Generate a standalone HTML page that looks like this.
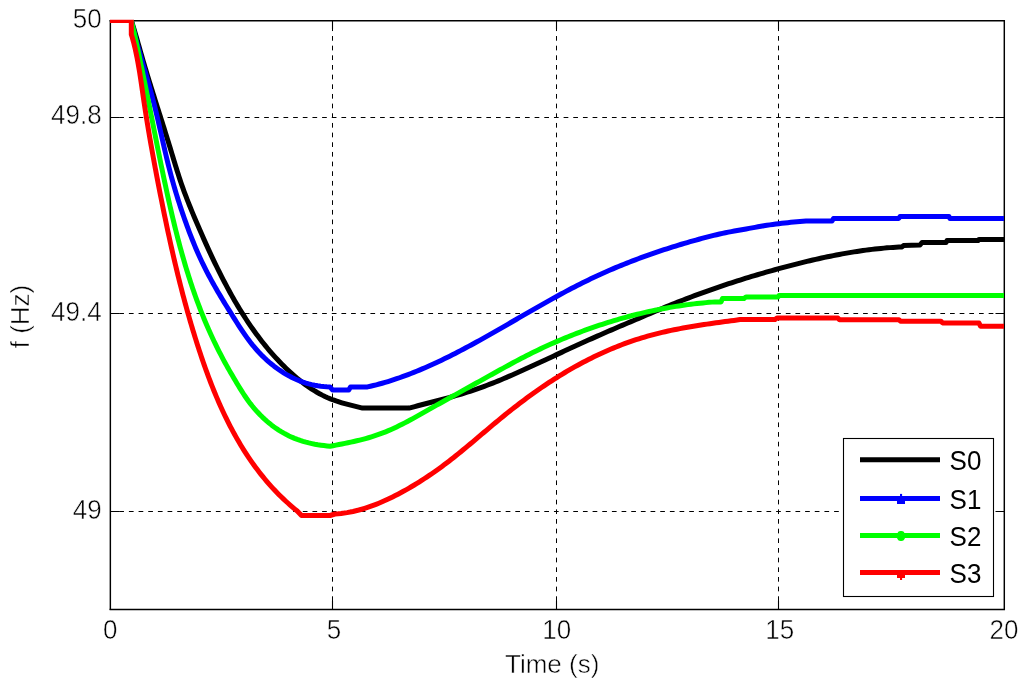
<!DOCTYPE html><html><head><meta charset="utf-8"><title>f (Hz) vs Time</title><style>html,body{margin:0;padding:0;background:#fff;}svg{display:block;}</style></head><body>
<svg width="1024" height="687" viewBox="0 0 1024 687" font-family="'Liberation Sans', Arial, sans-serif">
<style>.tl{fill:#000;stroke:#fff;stroke-width:0.5px;paint-order:fill stroke;}</style>
<rect width="1024" height="687" fill="#fff"/>
<defs><clipPath id="ax"><rect x="110" y="19.8" width="894" height="590.2"/></clipPath></defs>
<g stroke="#000" stroke-width="1" stroke-dasharray="4.7 4.96" fill="none"><line x1="332.5" y1="20.5" x2="332.5" y2="609.5" stroke-dashoffset="3.8"/><line x1="556.5" y1="20.5" x2="556.5" y2="609.5" stroke-dashoffset="3.8"/><line x1="778.5" y1="20.5" x2="778.5" y2="609.5" stroke-dashoffset="3.8"/><line x1="110.5" y1="117.5" x2="1004.5" y2="117.5" stroke-dashoffset="0.9"/><line x1="110.5" y1="313.5" x2="1004.5" y2="313.5" stroke-dashoffset="0.9"/><line x1="110.5" y1="511.5" x2="1004.5" y2="511.5" stroke-dashoffset="0.9"/></g>
<path d="M332.5 20.5v9M332.5 609.5v-9M556.5 20.5v9M556.5 609.5v-9M778.5 20.5v9M778.5 609.5v-9M110.5 117.5h9M1004.5 117.5h-9M110.5 313.5h9M1004.5 313.5h-9M110.5 511.5h9M1004.5 511.5h-9" stroke="#000" stroke-width="1.1" fill="none"/>
<g stroke="#000" stroke-width="1.45"><line x1="110.35" y1="20" x2="110.35" y2="610.1"/><line x1="1004.3" y1="20" x2="1004.3" y2="610.1"/><line x1="109.6" y1="20.7" x2="1005" y2="20.7"/><line x1="109.6" y1="609.4" x2="1005" y2="609.4"/></g>
<g clip-path="url(#ax)" fill="none" stroke-width="5.0" stroke-linejoin="round" stroke-linecap="butt">
<polyline stroke="#000" points="131.30,20.40 132.22,23.29 133.11,26.18 133.99,29.08 134.85,31.99 135.71,34.89 136.55,37.80 137.39,40.71 138.21,43.63 139.04,46.54 139.87,49.46 140.69,52.37 141.53,55.28 142.36,58.19 143.21,61.10 144.06,64.01 144.92,66.91 145.79,69.81 146.66,72.72 147.54,75.61 148.42,78.51 149.31,81.41 150.20,84.30 151.10,87.19 152.00,90.08 152.90,92.97 153.81,95.86 154.72,98.75 155.63,101.64 156.54,104.53 157.46,107.41 158.37,110.30 159.29,113.19 160.20,116.07 161.12,118.96 162.03,121.85 162.94,124.73 163.85,127.62 164.76,130.51 165.66,133.39 166.56,136.28 167.46,139.17 168.36,142.06 169.25,144.95 170.13,147.84 171.01,150.74 171.89,153.63 172.76,156.53 173.64,159.42 174.51,162.32 175.39,165.21 176.28,168.10 177.18,170.99 178.09,173.87 179.02,176.75 179.96,179.63 180.92,182.49 181.91,185.36 182.92,188.21 183.95,191.06 185.01,193.91 186.08,196.74 187.18,199.57 188.29,202.39 189.42,205.21 190.56,208.02 191.71,210.83 192.87,213.63 194.05,216.43 195.22,219.22 196.41,222.00 197.60,224.79 198.79,227.56 199.99,230.34 201.20,233.11 202.41,235.87 203.63,238.63 204.86,241.39 206.09,244.14 207.34,246.89 208.59,249.63 209.86,252.37 211.13,255.11 212.42,257.85 213.71,260.58 215.02,263.30 216.34,266.02 217.67,268.74 219.02,271.46 220.38,274.17 221.75,276.88 223.14,279.58 224.54,282.27 225.96,284.95 227.39,287.63 228.84,290.30 230.30,292.97 231.78,295.62 233.28,298.26 234.80,300.90 236.33,303.52 237.88,306.13 239.45,308.73 241.04,311.31 242.65,313.89 244.28,316.45 245.93,318.99 247.60,321.52 249.29,324.04 251.00,326.54 252.74,329.02 254.49,331.49 256.27,333.93 258.07,336.36 259.90,338.78 261.75,341.17 263.62,343.54 265.52,345.89 267.45,348.22 269.40,350.53 271.37,352.82 273.37,355.08 275.40,357.33 277.46,359.54 279.54,361.74 281.65,363.91 283.79,366.05 285.96,368.17 288.15,370.26 290.38,372.32 292.64,374.35 294.92,376.35 297.24,378.31 299.59,380.23 301.97,382.11 304.39,383.94 306.83,385.72 309.32,387.44 311.83,389.11 314.38,390.72 316.97,392.26 319.59,393.73 322.25,395.13 324.95,396.46 327.68,397.71 330.46,398.87 333.27,399.96 336.11,400.97 338.98,401.91 341.88,402.80 344.80,403.64 347.74,404.44 350.68,405.20 353.64,405.94 356.59,406.66 359.55,407.38 362.50,408.10 409.00,408.10 411.91,407.32 414.82,406.54 417.73,405.77 420.65,405.01 423.57,404.25 426.49,403.49 429.41,402.73 432.34,401.97 435.26,401.21 438.18,400.45 441.10,399.67 444.02,398.89 446.94,398.11 449.85,397.31 452.76,396.50 455.67,395.67 458.57,394.83 461.46,393.98 464.35,393.10 467.23,392.21 470.10,391.29 472.96,390.35 475.81,389.38 478.66,388.39 481.49,387.38 484.32,386.34 487.13,385.28 489.94,384.20 492.75,383.10 495.54,381.98 498.33,380.84 501.11,379.69 503.89,378.52 506.66,377.34 509.42,376.14 512.19,374.93 514.94,373.72 517.70,372.49 520.45,371.25 523.19,370.01 525.94,368.76 528.68,367.51 531.42,366.25 534.16,364.99 536.90,363.73 539.64,362.47 542.38,361.21 545.12,359.94 547.86,358.68 550.60,357.41 553.33,356.15 556.07,354.88 558.81,353.62 561.55,352.36 564.29,351.09 567.03,349.83 569.77,348.58 572.51,347.32 575.25,346.07 577.99,344.81 580.74,343.57 583.48,342.32 586.23,341.08 588.98,339.84 591.73,338.61 594.48,337.38 597.23,336.16 599.99,334.94 602.75,333.73 605.51,332.52 608.27,331.32 611.03,330.12 613.80,328.93 616.57,327.75 619.34,326.57 622.11,325.39 624.88,324.21 627.66,323.04 630.43,321.87 633.20,320.69 635.98,319.52 638.75,318.35 641.52,317.17 644.29,316.00 647.06,314.82 649.83,313.64 652.60,312.47 655.38,311.29 658.15,310.12 660.93,308.96 663.71,307.80 666.49,306.66 669.27,305.52 672.07,304.39 674.86,303.26 677.66,302.15 680.46,301.05 683.27,299.96 686.08,298.87 688.89,297.80 691.71,296.73 694.53,295.68 697.36,294.63 700.19,293.60 703.02,292.57 705.86,291.55 708.70,290.54 711.54,289.54 714.38,288.54 717.23,287.56 720.09,286.59 722.94,285.62 725.80,284.67 728.66,283.72 731.53,282.78 734.40,281.85 737.27,280.93 740.14,280.02 743.02,279.11 745.90,278.22 748.78,277.33 751.66,276.46 754.55,275.59 757.44,274.73 760.33,273.88 763.23,273.03 766.13,272.20 769.02,271.37 771.93,270.56 774.83,269.75 777.74,268.95 780.64,268.16 783.55,267.37 786.47,266.60 789.38,265.83 792.30,265.07 795.22,264.32 798.14,263.58 801.06,262.85 803.98,262.13 806.91,261.42 809.84,260.72 812.77,260.04 815.70,259.36 818.64,258.70 821.58,258.05 824.52,257.41 827.46,256.79 830.41,256.18 833.36,255.59 836.31,255.01 839.26,254.45 842.22,253.90 845.18,253.37 848.14,252.85 851.10,252.35 854.07,251.87 857.04,251.41 860.02,250.96 862.99,250.54 865.97,250.13 868.96,249.74 871.95,249.38 874.94,249.03 877.93,248.70 880.93,248.40 883.93,248.12 886.93,247.86 889.94,247.62 892.95,247.40 895.96,247.21 898.98,247.04 902.00,246.90 903.50,245.60 920.00,245.00 922.00,242.50 946.00,242.50 947.00,240.60 978.00,240.60 979.00,239.40 1006.00,239.40"/>
<polyline stroke="#0000ff" points="131.30,20.40 131.98,23.36 132.69,26.31 133.41,29.26 134.15,32.21 134.90,35.15 135.67,38.09 136.46,41.02 137.26,43.96 138.07,46.89 138.88,49.82 139.71,52.74 140.54,55.67 141.38,58.59 142.22,61.51 143.07,64.44 143.92,67.36 144.76,70.28 145.61,73.20 146.45,76.13 147.29,79.05 148.12,81.97 148.95,84.90 149.77,87.83 150.58,90.76 151.38,93.69 152.16,96.63 152.93,99.56 153.69,102.51 154.43,105.45 155.16,108.40 155.88,111.35 156.59,114.30 157.28,117.26 157.98,120.21 158.66,123.17 159.34,126.13 160.01,129.09 160.68,132.05 161.35,135.01 162.02,137.97 162.69,140.93 163.37,143.89 164.04,146.85 164.73,149.81 165.41,152.76 166.11,155.72 166.81,158.67 167.52,161.62 168.25,164.57 168.98,167.51 169.73,170.46 170.50,173.40 171.28,176.33 172.08,179.26 172.89,182.19 173.72,185.12 174.56,188.04 175.43,190.95 176.30,193.86 177.20,196.77 178.10,199.67 179.02,202.57 179.96,205.46 180.91,208.35 181.88,211.23 182.86,214.11 183.85,216.98 184.85,219.85 185.87,222.71 186.91,225.57 187.96,228.42 189.02,231.26 190.10,234.10 191.20,236.93 192.31,239.75 193.45,242.56 194.60,245.37 195.77,248.16 196.97,250.94 198.18,253.72 199.42,256.48 200.69,259.24 201.97,261.98 203.29,264.71 204.63,267.42 205.99,270.13 207.38,272.82 208.79,275.51 210.22,278.18 211.67,280.84 213.14,283.50 214.63,286.14 216.14,288.78 217.66,291.40 219.20,294.02 220.75,296.64 222.31,299.24 223.89,301.84 225.48,304.44 227.07,307.02 228.68,309.61 230.29,312.19 231.91,314.76 233.53,317.33 235.15,319.90 236.78,322.47 238.42,325.03 240.07,327.57 241.74,330.11 243.44,332.63 245.16,335.13 246.92,337.60 248.71,340.05 250.55,342.46 252.43,344.85 254.37,347.19 256.36,349.49 258.40,351.76 260.50,353.97 262.64,356.14 264.83,358.25 267.07,360.32 269.36,362.32 271.70,364.27 274.08,366.16 276.51,367.98 278.98,369.73 281.49,371.42 284.05,373.03 286.64,374.57 289.28,376.03 291.96,377.42 294.68,378.72 297.43,379.93 300.23,381.06 303.05,382.09 305.92,383.03 308.82,383.88 311.75,384.63 314.71,385.27 317.71,385.82 320.74,386.25 323.80,386.58 326.88,386.80 330.00,386.90 332.50,390.00 348.75,390.00 350.50,386.90 367.50,386.90 370.45,386.24 373.39,385.55 376.33,384.81 379.26,384.04 382.18,383.24 385.10,382.40 388.00,381.53 390.90,380.63 393.79,379.70 396.67,378.74 399.55,377.75 402.42,376.73 405.27,375.69 408.12,374.62 410.96,373.52 413.79,372.40 416.61,371.26 419.42,370.10 422.22,368.92 425.02,367.72 427.80,366.50 430.57,365.26 433.33,364.01 436.09,362.74 438.83,361.45 441.57,360.15 444.30,358.83 447.02,357.50 449.73,356.15 452.44,354.79 455.14,353.42 457.83,352.04 460.52,350.64 463.20,349.23 465.88,347.81 468.55,346.38 471.22,344.94 473.88,343.49 476.54,342.03 479.19,340.57 481.85,339.09 484.49,337.61 487.14,336.13 489.78,334.63 492.42,333.13 495.06,331.63 497.70,330.12 500.34,328.61 502.97,327.09 505.60,325.58 508.24,324.06 510.87,322.53 513.50,321.01 516.13,319.49 518.76,317.96 521.39,316.44 524.02,314.92 526.66,313.40 529.29,311.88 531.93,310.36 534.56,308.85 537.20,307.34 539.85,305.84 542.49,304.34 545.14,302.85 547.78,301.36 550.44,299.88 553.09,298.40 555.75,296.94 558.42,295.48 561.08,294.03 563.76,292.59 566.43,291.16 569.11,289.74 571.80,288.33 574.49,286.93 577.19,285.55 579.89,284.18 582.60,282.82 585.32,281.47 588.04,280.14 590.77,278.82 593.51,277.52 596.25,276.24 599.00,274.97 601.76,273.71 604.53,272.47 607.30,271.25 610.08,270.04 612.87,268.84 615.66,267.66 618.46,266.50 621.26,265.35 624.07,264.21 626.89,263.09 629.71,261.98 632.54,260.88 635.38,259.80 638.22,258.74 641.06,257.68 643.91,256.64 646.77,255.61 649.63,254.60 652.50,253.59 655.37,252.60 658.25,251.63 661.13,250.66 664.01,249.71 666.90,248.77 669.80,247.84 672.70,246.92 675.60,246.02 678.51,245.13 681.42,244.25 684.33,243.38 687.25,242.53 690.17,241.69 693.09,240.86 696.02,240.04 698.94,239.24 701.88,238.45 704.81,237.67 707.75,236.91 710.69,236.16 713.63,235.43 716.58,234.73 719.53,234.05 722.48,233.39 725.43,232.77 728.39,232.17 731.35,231.59 734.32,231.04 737.28,230.50 740.24,229.97 743.20,229.45 746.16,228.93 749.12,228.41 752.07,227.89 755.02,227.36 757.97,226.83 760.93,226.32 763.88,225.81 766.84,225.33 769.81,224.87 772.78,224.44 775.76,224.03 778.76,223.65 781.75,223.30 784.76,222.96 787.77,222.64 790.79,222.35 793.82,222.07 796.86,221.81 799.90,221.56 802.95,221.32 806.00,221.10 832.00,221.10 833.50,218.50 898.75,218.50 900.00,216.60 949.00,216.60 950.00,218.50 1006.00,218.50"/>
<polyline stroke="#00ff00" points="131.30,20.40 131.99,23.34 132.67,26.29 133.34,29.24 134.01,32.18 134.67,35.13 135.33,38.08 135.98,41.03 136.62,43.98 137.27,46.93 137.90,49.88 138.54,52.83 139.16,55.78 139.79,58.73 140.41,61.69 141.02,64.64 141.64,67.59 142.25,70.55 142.85,73.50 143.46,76.46 144.06,79.41 144.66,82.37 145.25,85.32 145.85,88.28 146.44,91.23 147.03,94.19 147.62,97.14 148.21,100.10 148.79,103.06 149.38,106.01 149.96,108.97 150.55,111.93 151.13,114.88 151.71,117.84 152.30,120.80 152.88,123.76 153.46,126.71 154.05,129.67 154.63,132.63 155.22,135.59 155.81,138.54 156.40,141.50 156.99,144.46 157.58,147.41 158.17,150.37 158.77,153.33 159.37,156.28 159.97,159.24 160.57,162.19 161.18,165.15 161.79,168.11 162.40,171.06 163.01,174.02 163.63,176.97 164.26,179.92 164.89,182.88 165.52,185.83 166.15,188.78 166.79,191.74 167.44,194.69 168.09,197.64 168.75,200.59 169.41,203.54 170.08,206.49 170.76,209.43 171.44,212.38 172.13,215.32 172.82,218.26 173.53,221.20 174.24,224.14 174.96,227.07 175.69,230.01 176.43,232.94 177.18,235.86 177.93,238.79 178.70,241.71 179.47,244.63 180.26,247.55 181.06,250.46 181.87,253.37 182.69,256.27 183.52,259.17 184.36,262.07 185.21,264.96 186.08,267.85 186.96,270.73 187.85,273.61 188.76,276.49 189.68,279.36 190.61,282.22 191.56,285.08 192.52,287.94 193.50,290.79 194.49,293.63 195.50,296.47 196.52,299.30 197.56,302.13 198.61,304.95 199.68,307.76 200.77,310.57 201.88,313.37 203.00,316.17 204.14,318.96 205.30,321.74 206.47,324.51 207.67,327.28 208.88,330.03 210.11,332.78 211.36,335.53 212.62,338.26 213.91,340.99 215.22,343.70 216.54,346.41 217.88,349.11 219.25,351.80 220.63,354.48 222.03,357.15 223.46,359.82 224.90,362.47 226.36,365.11 227.83,367.75 229.33,370.38 230.83,373.00 232.36,375.61 233.89,378.23 235.44,380.83 237.00,383.43 238.57,386.03 240.15,388.62 241.76,391.19 243.40,393.74 245.08,396.26 246.79,398.75 248.55,401.21 250.37,403.63 252.23,405.99 254.16,408.32 256.13,410.59 258.16,412.80 260.24,414.97 262.37,417.08 264.56,419.13 266.79,421.11 269.07,423.04 271.41,424.90 273.79,426.69 276.22,428.42 278.70,430.07 281.22,431.65 283.79,433.15 286.41,434.57 289.07,435.91 291.78,437.17 294.53,438.35 297.33,439.44 300.16,440.44 303.04,441.35 305.96,442.17 308.91,442.92 311.88,443.58 314.88,444.18 317.89,444.71 320.91,445.17 323.94,445.58 326.97,445.94 330.00,446.25 332.98,445.70 335.96,445.15 338.94,444.58 341.92,444.00 344.90,443.41 347.88,442.79 350.86,442.16 353.82,441.50 356.79,440.81 359.74,440.09 362.68,439.34 365.61,438.56 368.52,437.73 371.42,436.86 374.31,435.95 377.17,434.99 380.01,433.98 382.84,432.92 385.64,431.81 388.42,430.65 391.19,429.44 393.94,428.20 396.67,426.91 399.39,425.60 402.10,424.25 404.79,422.87 407.47,421.46 410.15,420.04 412.81,418.59 415.47,417.13 418.12,415.65 420.77,414.16 423.42,412.67 426.06,411.17 428.70,409.67 431.35,408.17 433.99,406.68 436.63,405.19 439.28,403.70 441.93,402.21 444.57,400.73 447.22,399.25 449.87,397.77 452.52,396.29 455.16,394.82 457.81,393.34 460.46,391.87 463.11,390.40 465.76,388.93 468.41,387.46 471.06,385.99 473.70,384.52 476.35,383.05 479.00,381.58 481.65,380.11 484.29,378.63 486.94,377.16 489.58,375.69 492.23,374.22 494.87,372.75 497.52,371.28 500.17,369.81 502.82,368.35 505.48,366.90 508.13,365.45 510.79,364.01 513.46,362.57 516.13,361.15 518.80,359.74 521.48,358.33 524.17,356.94 526.86,355.56 529.56,354.19 532.27,352.84 534.99,351.51 537.71,350.19 540.45,348.88 543.19,347.59 545.94,346.32 548.69,345.06 551.46,343.82 554.23,342.60 557.01,341.39 559.79,340.19 562.59,339.02 565.39,337.85 568.19,336.71 571.01,335.58 573.83,334.47 576.65,333.37 579.49,332.29 582.33,331.23 585.17,330.19 588.02,329.16 590.88,328.14 593.75,327.15 596.61,326.17 599.49,325.21 602.37,324.26 605.26,323.34 608.15,322.42 611.04,321.53 613.95,320.65 616.85,319.80 619.76,318.95 622.68,318.13 625.60,317.32 628.53,316.54 631.46,315.76 634.39,315.01 637.33,314.27 640.27,313.56 643.22,312.86 646.17,312.18 649.12,311.51 652.08,310.87 655.04,310.24 658.01,309.64 660.98,309.05 663.95,308.48 666.93,307.93 669.91,307.40 672.89,306.89 675.88,306.40 678.87,305.93 681.86,305.48 684.86,305.05 687.86,304.64 690.86,304.25 693.87,303.88 696.88,303.54 699.89,303.21 702.91,302.91 705.93,302.62 708.95,302.36 711.97,302.12 715.00,301.90 721.00,301.90 722.50,298.50 744.00,298.50 746.00,296.90 778.00,296.90 779.00,295.60 1006.00,295.60"/>
<polyline stroke="#ff0000" points="108.00,20.40 131.30,20.40 131.30,34.50 132.20,37.37 133.04,40.26 133.81,43.17 134.53,46.09 135.21,49.02 135.85,51.95 136.47,54.89 137.06,57.84 137.62,60.80 138.16,63.76 138.68,66.73 139.18,69.70 139.67,72.67 140.14,75.65 140.60,78.63 141.05,81.61 141.49,84.60 141.93,87.59 142.36,90.58 142.80,93.57 143.23,96.57 143.67,99.56 144.12,102.55 144.57,105.55 145.03,108.54 145.49,111.54 145.96,114.53 146.44,117.52 146.92,120.52 147.40,123.51 147.90,126.50 148.39,129.50 148.90,132.49 149.40,135.48 149.92,138.47 150.44,141.46 150.96,144.45 151.48,147.44 152.02,150.43 152.55,153.42 153.09,156.41 153.64,159.40 154.19,162.38 154.74,165.37 155.30,168.35 155.86,171.33 156.42,174.31 156.99,177.29 157.56,180.27 158.13,183.25 158.71,186.23 159.29,189.20 159.88,192.17 160.46,195.15 161.05,198.12 161.65,201.08 162.24,204.05 162.84,207.02 163.44,209.98 164.05,212.94 164.66,215.91 165.27,218.86 165.89,221.82 166.51,224.78 167.13,227.73 167.76,230.69 168.40,233.64 169.04,236.59 169.68,239.54 170.33,242.48 170.99,245.43 171.65,248.37 172.31,251.32 172.98,254.26 173.66,257.20 174.34,260.13 175.03,263.07 175.73,266.01 176.43,268.94 177.14,271.87 177.85,274.80 178.57,277.73 179.30,280.66 180.04,283.58 180.78,286.51 181.53,289.43 182.29,292.35 183.05,295.27 183.83,298.19 184.61,301.10 185.40,304.02 186.20,306.93 187.01,309.84 187.82,312.75 188.65,315.66 189.48,318.57 190.32,321.47 191.17,324.38 192.04,327.28 192.91,330.18 193.79,333.08 194.68,335.98 195.58,338.87 196.49,341.77 197.41,344.66 198.34,347.55 199.29,350.44 200.24,353.33 201.20,356.22 202.18,359.10 203.17,361.98 204.17,364.85 205.19,367.72 206.22,370.59 207.26,373.45 208.32,376.30 209.39,379.15 210.48,381.99 211.58,384.83 212.70,387.66 213.83,390.48 214.98,393.29 216.15,396.10 217.34,398.89 218.54,401.68 219.76,404.46 221.00,407.22 222.26,409.98 223.54,412.73 224.83,415.46 226.15,418.18 227.49,420.89 228.85,423.59 230.23,426.28 231.63,428.95 233.05,431.61 234.50,434.26 235.96,436.89 237.46,439.50 238.97,442.10 240.51,444.69 242.07,447.25 243.66,449.81 245.27,452.34 246.91,454.86 248.57,457.36 250.26,459.84 251.98,462.31 253.72,464.75 255.49,467.18 257.29,469.58 259.11,471.97 260.97,474.33 262.85,476.68 264.76,479.00 266.70,481.30 268.67,483.58 270.68,485.83 272.71,488.07 274.77,490.28 276.87,492.46 278.99,494.63 281.15,496.76 283.34,498.88 285.57,500.96 287.83,503.02 290.12,505.06 292.44,507.07 294.81,509.05 297.20,511.00 301.50,515.50 330.00,515.50 335.00,514.00 338.05,513.77 341.07,513.46 344.08,513.07 347.07,512.60 350.04,512.06 353.00,511.45 355.93,510.77 358.85,510.03 361.75,509.22 364.64,508.35 367.50,507.43 370.36,506.45 373.19,505.41 376.01,504.33 378.81,503.20 381.60,502.02 384.37,500.80 387.13,499.54 389.87,498.24 392.60,496.91 395.31,495.55 398.01,494.16 400.69,492.74 403.36,491.29 406.02,489.81 408.66,488.31 411.29,486.78 413.90,485.23 416.50,483.65 419.09,482.05 421.66,480.42 424.21,478.77 426.75,477.10 429.28,475.41 431.79,473.70 434.29,471.96 436.78,470.21 439.25,468.44 441.70,466.64 444.14,464.83 446.57,463.00 448.98,461.16 451.38,459.30 453.76,457.42 456.14,455.54 458.50,453.64 460.86,451.72 463.20,449.80 465.54,447.87 467.88,445.93 470.20,443.99 472.52,442.04 474.84,440.08 477.16,438.13 479.47,436.17 481.79,434.21 484.10,432.25 486.42,430.29 488.74,428.33 491.06,426.38 493.38,424.43 495.71,422.49 498.05,420.55 500.39,418.63 502.75,416.71 505.11,414.80 507.47,412.90 509.85,411.01 512.23,409.13 514.62,407.26 517.02,405.40 519.43,403.55 521.85,401.72 524.28,399.90 526.72,398.09 529.16,396.29 531.62,394.51 534.09,392.74 536.57,390.98 539.06,389.24 541.56,387.52 544.07,385.81 546.59,384.12 549.12,382.44 551.67,380.78 554.23,379.14 556.79,377.52 559.37,375.91 561.97,374.32 564.57,372.75 567.18,371.20 569.81,369.67 572.44,368.16 575.09,366.67 577.75,365.20 580.42,363.75 583.10,362.33 585.79,360.92 588.49,359.54 591.20,358.17 593.92,356.83 596.65,355.52 599.40,354.23 602.15,352.96 604.91,351.71 607.69,350.49 610.47,349.30 613.26,348.13 616.07,346.98 618.88,345.86 621.70,344.77 624.53,343.70 627.38,342.67 630.23,341.65 633.09,340.67 635.96,339.72 638.84,338.79 641.73,337.89 644.62,337.02 647.53,336.18 650.45,335.37 653.37,334.59 656.30,333.83 659.24,333.10 662.19,332.40 665.14,331.71 668.10,331.06 671.07,330.42 674.04,329.80 677.02,329.21 680.00,328.63 682.99,328.07 685.97,327.53 688.97,327.01 691.96,326.50 694.96,326.00 697.96,325.52 700.97,325.05 703.97,324.59 706.98,324.14 709.98,323.70 712.99,323.27 716.00,322.84 719.00,322.42 722.01,322.01 725.01,321.60 728.02,321.20 731.02,320.80 734.01,320.40 737.01,320.00 740.00,319.60 775.00,319.60 777.00,318.10 838.00,318.10 839.50,319.75 899.00,319.75 900.50,321.25 941.00,321.25 942.50,322.90 979.00,322.90 980.50,326.25 1006.00,326.25"/>
</g>
<text transform="translate(101.6 27.5) scale(1 1.07)" font-size="26.0" text-anchor="end" class="tl">50</text>
<text transform="translate(101.6 124.1) scale(1 1.07)" font-size="26.0" text-anchor="end" class="tl">49.8</text>
<text transform="translate(101.6 320.6) scale(1 1.07)" font-size="26.0" text-anchor="end" class="tl">49.4</text>
<text transform="translate(101.6 518.6) scale(1 1.07)" font-size="26.0" text-anchor="end" class="tl">49</text>
<text transform="translate(110.3 639) scale(1 1.07)" font-size="26.0" text-anchor="middle" class="tl">0</text>
<text transform="translate(334.1 639) scale(1 1.07)" font-size="26.0" text-anchor="middle" class="tl">5</text>
<text transform="translate(556.7 639) scale(1 1.07)" font-size="26.0" text-anchor="middle" class="tl">10</text>
<text transform="translate(779.7 639) scale(1 1.07)" font-size="26.0" text-anchor="middle" class="tl">15</text>
<text transform="translate(1003.9 639) scale(1 1.07)" font-size="26.0" text-anchor="middle" class="tl">20</text>
<text x="552.2" y="672.8" font-size="26" text-anchor="middle" class="tl">Time (s)</text>
<text transform="translate(28.8 316.5) rotate(-90)" font-size="26" text-anchor="middle" class="tl">f (Hz)</text>
<rect x="843.5" y="438.5" width="150" height="158" fill="#fff" stroke="#000" stroke-width="1.1"/>
<line x1="860" y1="459.75" x2="940" y2="459.75" stroke="#000" stroke-width="5.0"/>
<text transform="translate(949.6 470.1) scale(1 1.075)" font-size="26" fill="#000">S0</text>
<line x1="860" y1="498.5" x2="940" y2="498.5" stroke="#0000ff" stroke-width="5.0"/>
<text transform="translate(949.6 508.9) scale(1 1.075)" font-size="26" fill="#000">S1</text>
<line x1="860" y1="535.5" x2="940" y2="535.5" stroke="#00ff00" stroke-width="5.0"/>
<text transform="translate(949.6 545.9) scale(1 1.075)" font-size="26" fill="#000">S2</text>
<line x1="860" y1="572.5" x2="940" y2="572.5" stroke="#ff0000" stroke-width="5.0"/>
<text transform="translate(949.6 582.9) scale(1 1.075)" font-size="26" fill="#000">S3</text>
<g fill="#0000ff"><rect x="900" y="493.9" width="2.1" height="3"/><rect x="897" y="500" width="8" height="4"/></g>
<g fill="#00ff00"><rect x="897.5" y="531" width="7" height="10" rx="3.2"/><rect x="897" y="532.5" width="8" height="7" rx="2.5"/></g>
<g fill="#ff0000"><rect x="897" y="572" width="8" height="6"/><rect x="900" y="577" width="2.1" height="3"/></g>
</svg></body></html>
